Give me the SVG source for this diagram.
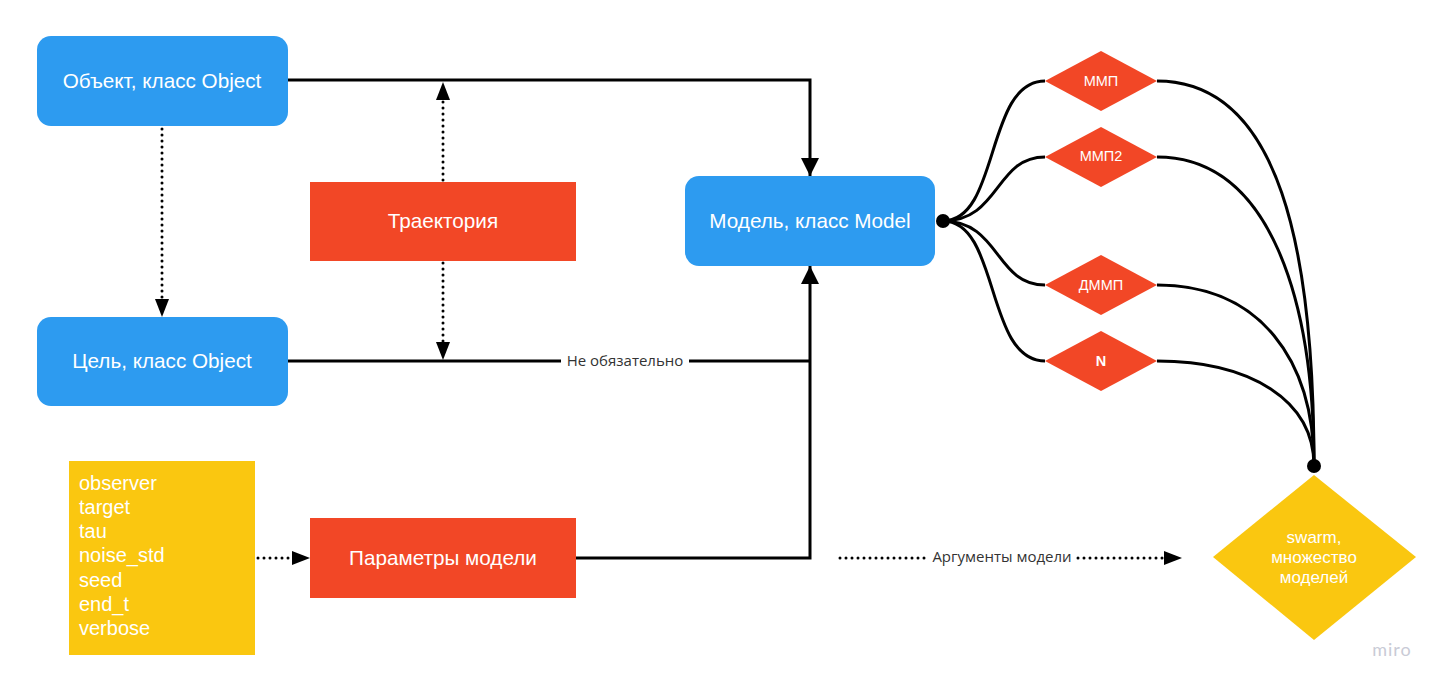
<svg xmlns="http://www.w3.org/2000/svg" width="1448" height="690" viewBox="0 0 1448 690">
<style>
.blue{fill:#2D9BF0}
.red{fill:#F24726}
.yel{fill:#FAC710}
.t{font-family:"Liberation Sans",Arial,sans-serif;fill:#fff;font-size:20.7px;text-anchor:middle;dominant-baseline:central}
.ts{font-family:"Liberation Sans",Arial,sans-serif;fill:#fff;font-size:14.5px;text-anchor:middle;dominant-baseline:central}
.tw{font-family:"Liberation Sans",Arial,sans-serif;fill:#fff;font-size:17px;text-anchor:middle;dominant-baseline:central}
.tl{font-family:"Liberation Sans",Arial,sans-serif;fill:#fff;font-size:20px}
.lbl{font-family:"Open Sans","Noto Sans",sans-serif;fill:#333;font-size:15px;text-anchor:middle;dominant-baseline:central}
.ln{fill:none;stroke:#000;stroke-width:3}
.dot{fill:none;stroke:#000;stroke-width:3;stroke-dasharray:0 6;stroke-linecap:round}
</style>
<defs>
<marker id="ahd" viewBox="0 0 10 10" refX="10" refY="5" markerWidth="18" markerHeight="18" markerUnits="userSpaceOnUse" orient="auto">
<path d="M0,0 L10,5 L0,10 z" fill="#000"/>
</marker>
</defs>
<g id="connectors">
<path class="ln" d="M288,80 H810 V176" marker-end="url(#ahd)"/>
<path class="ln" d="M288,361 H561"/>
<path class="ln" d="M689,361 H810"/>
<path class="ln" d="M576,558 H810 V266" marker-end="url(#ahd)"/>
<path class="dot" d="M162,129 V300"/>
<path d="M155,299 L169,299 L162,317 z" fill="#000"/>
<path class="dot" d="M443,180 V100"/>
<path d="M436,100 L450,100 L443,82 z" fill="#000"/>
<path class="dot" d="M443,263 V342"/>
<path d="M436,342 L450,342 L443,360 z" fill="#000"/>
<path class="dot" d="M258,558 H292"/>
<path d="M292,551 L292,565 L310,558 z" fill="#000"/>
<path class="dot" d="M840,558 H926"/>
<path class="dot" d="M1078,558 H1164"/>
<path d="M1164,551 L1164,565 L1182,558 z" fill="#000"/>
<text class="lbl" x="625" y="360">Не обязательно</text>
<text class="lbl" x="1002" y="556">Аргументы модели</text>
<path class="ln" d="M943,221 C1000,221 985,81 1045,81"/>
<path class="ln" d="M943,221 C1000,221 995,157 1045,157"/>
<path class="ln" d="M943,221 C1000,221 995,285 1045,285"/>
<path class="ln" d="M943,221 C1000,221 985,361 1045,361"/>
<path class="ln" d="M1157,81 C1280,81 1314,250 1314,466"/>
<path class="ln" d="M1157,157 C1270,157 1314,300 1314,466"/>
<path class="ln" d="M1157,285 C1260,285 1314,360 1314,466"/>
<path class="ln" d="M1157,361 C1250,361 1314,400 1314,466"/>
<circle cx="943" cy="221" r="7" fill="#000"/>
<circle cx="1314" cy="466" r="7" fill="#000"/>
</g>
<g id="obj">
<rect class="blue" x="37" y="36" width="251" height="90" rx="14"/>
<text class="t" x="162" y="80">Объект, класс Object</text>
</g>
<g id="goal">
<rect class="blue" x="37" y="317" width="251" height="89" rx="14"/>
<text class="t" x="162" y="360">Цель, класс Object</text>
</g>
<g id="traj">
<rect class="red" x="310" y="182" width="266" height="79"/>
<text class="t" x="443" y="220">Траектория</text>
</g>
<g id="model">
<rect class="blue" x="685" y="176" width="250" height="90" rx="14"/>
<text class="t" x="810" y="220">Модель, класс Model</text>
</g>
<g id="params">
<rect class="red" x="310" y="518" width="266" height="80"/>
<text class="t" x="443" y="557">Параметры модели</text>
</g>
<g id="args">
<rect class="yel" x="69" y="461" width="186" height="194"/>
<text class="tl" x="79" y="490">observer</text>
<text class="tl" x="79" y="514">target</text>
<text class="tl" x="79" y="538">tau</text>
<text class="tl" x="79" y="562">noise_std</text>
<text class="tl" x="79" y="587">seed</text>
<text class="tl" x="79" y="611">end_t</text>
<text class="tl" x="79" y="635">verbose</text>
</g>
<g id="mmp">
<polygon class="red" points="1045,81 1101,51 1157,81 1101,111"/>
<text class="ts" x="1101" y="81">ММП</text>
</g>
<g id="mmp2">
<polygon class="red" points="1045,157 1101,127 1157,157 1101,187"/>
<text class="ts" x="1101" y="156">ММП2</text>
</g>
<g id="dmmp">
<polygon class="red" points="1045,285 1101,255 1157,285 1101,315"/>
<text class="ts" x="1101" y="285">ДММП</text>
</g>
<g id="n">
<polygon class="red" points="1045,361 1101,331 1157,361 1101,391"/>
<text class="ts" x="1101" y="361" font-weight="bold">N</text>
</g>
<g id="swarm">
<polygon class="yel" points="1213,557 1314,475 1416,557 1314,640"/>
<text class="tw" x="1314" y="537">swarm,</text>
<text class="tw" x="1314" y="557">множество</text>
<text class="tw" x="1314" y="577">моделей</text>
</g>
<text x="1392" y="656" font-family="Lato,'Open Sans',sans-serif" font-size="18" letter-spacing="1" fill="#C9CBD6" text-anchor="middle">miro</text>
</svg>
